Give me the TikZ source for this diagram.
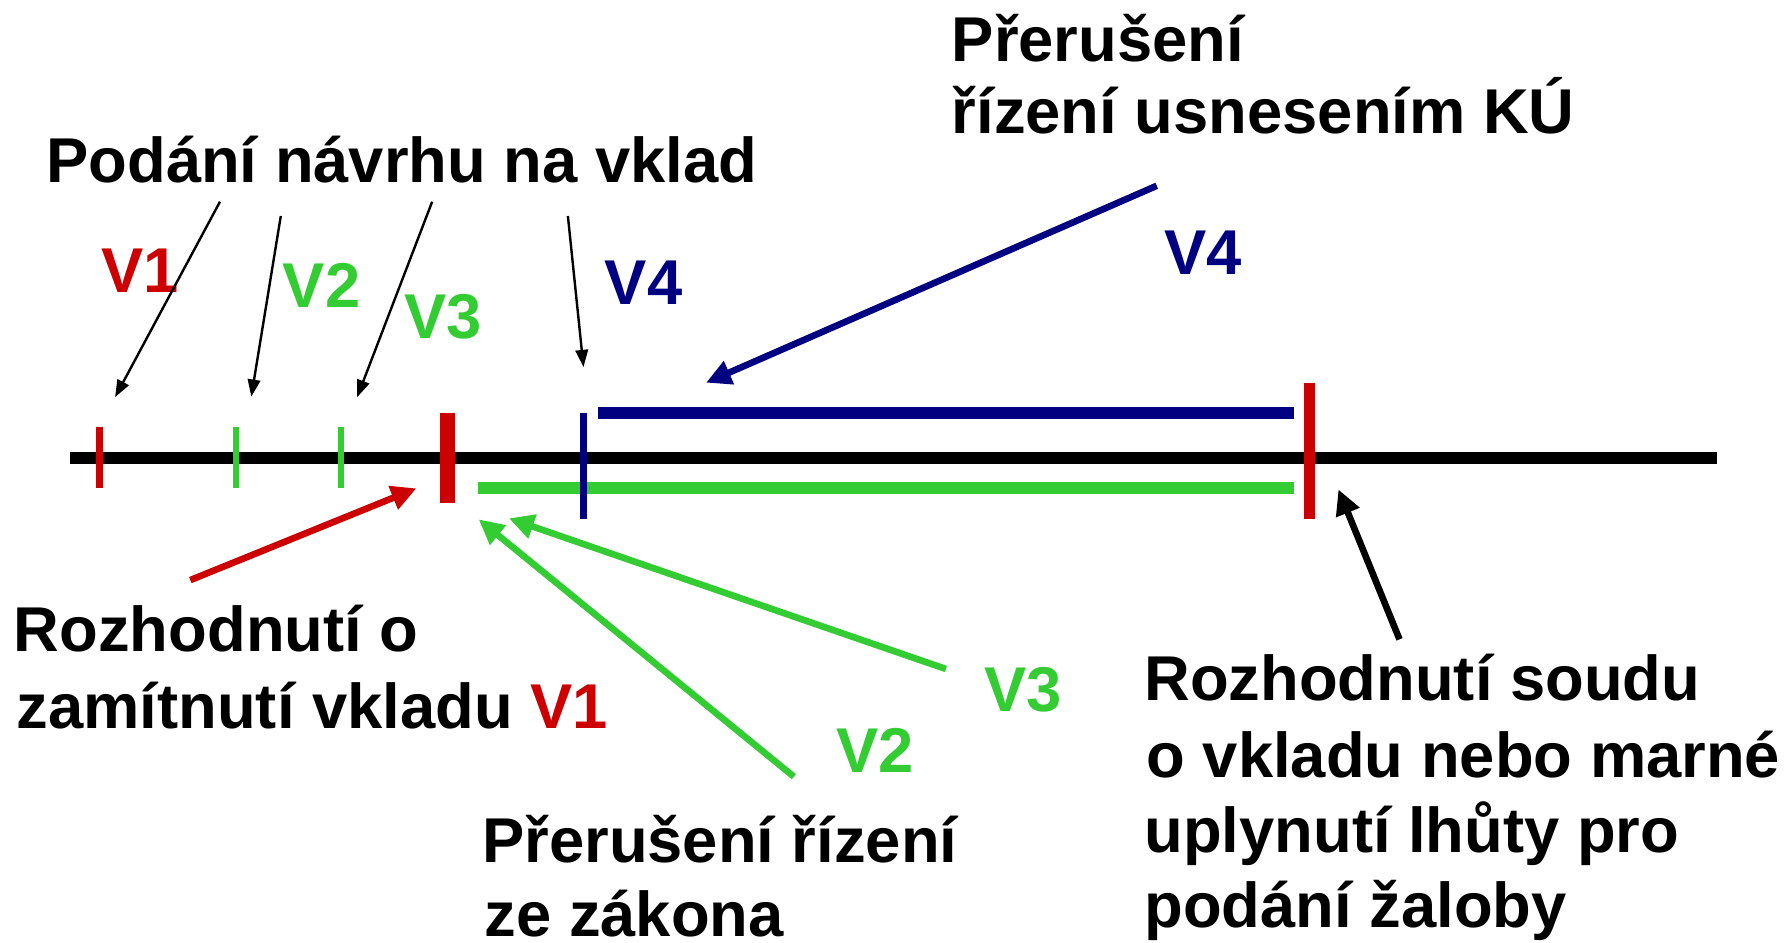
\documentclass[tikz,border=0pt]{standalone}
\usepackage{fontspec}
\setmainfont{Liberation Sans}
\usetikzlibrary{arrows.meta}
\definecolor{vred}{HTML}{CC0000}
\definecolor{vgreen}{HTML}{33CC33}
\definecolor{vblue}{HTML}{000080}
\tikzset{
  lbl/.style={font=\bfseries\fontsize{15.8}{19}\selectfont, inner sep=0pt, anchor=base west},
  thinarrow/.style={line width=0.6pt, -{Triangle[length=0.15cm,width=0.11cm]}},
  thickarrow/.style={line width=0.058cm, -{Triangle[length=0.22cm,width=0.21cm]}},
  bar/.style={line width=0.105cm},
}
\begin{document}
\begin{tikzpicture}[x=0.01cm,y=-0.01cm]
\useasboundingbox (0,0) rectangle (1568,827);

% time axis
\draw[line width=0.105cm] (61,402) -- (1507,402);

% running periods
\draw[bar, vblue]  (525,362) -- (1135,362);
\draw[bar, vgreen] (419,428.5) -- (1135,428.5);

% tick marks on the axis
\draw[vred,   line width=0.067cm] (87.3,375) -- (87.3,428.5);
\draw[vgreen, line width=0.053cm] (207,375) -- (207,428.5);
\draw[vgreen, line width=0.053cm] (299.5,375) -- (299.5,428.5);
\draw[vred,   line width=0.135cm] (392.8,362) -- (392.8,441.6);
\draw[vblue,  line width=0.064cm] (512,362) -- (512,455);
\draw[vred,   line width=0.095cm] (1149,336) -- (1149,455);

% texts
\node[lbl] (podani) at (40,160.3) {Podání návrhu na vklad};
\node[lbl] (ku1) at (834.5,54) {Přerušení};
\node[lbl] (ku2) at (834.5,117) {řízení usnesením KÚ};
\node[lbl] (zam1) at (11.5,571.8) {Rozhodnutí o};
\node[lbl] (zam2) at (14,639) {zamítnutí vkladu {\color{vred}V1}};
\node[lbl] (zak1) at (422.5,757) {Přerušení řízení};
\node[lbl] (zak2) at (424.5,822) {ze zákona};
\node[lbl] (soud1) at (1003.5,615) {Rozhodnutí soudu};
\node[lbl] (soud2) at (1005.5,682) {o vkladu nebo marné};
\node[lbl] (soud3) at (1003.5,748) {uplynutí lhůty pro};
\node[lbl] (soud4) at (1003.5,814) {podání žaloby};

\node[lbl, text=vred]   (v1)  at (88,257)   {V1};
\node[lbl, text=vgreen] (v2)  at (247.5,270) {V2};
\node[lbl, text=vgreen] (v3)  at (354,297)  {V3};
\node[lbl, text=vblue]  (v4)  at (530,267)  {V4};
\node[lbl, text=vblue]  (v4b) at (1021,240.5) {V4};
\node[lbl, text=vgreen] (v3b) at (863,624)  {V3};
\node[lbl, text=vgreen] (v2b) at (733,678)  {V2};

% arrow end points
\coordinate (p1s) at (193,177);   \coordinate (p1e) at (101,348.5);
\coordinate (p2s) at (246.4,189.5); \coordinate (p2e) at (220.5,348);
\coordinate (p3s) at (379.2,177); \coordinate (p3e) at (313.4,348.5);
\coordinate (p4s) at (498.3,189.5); \coordinate (p4e) at (512,322);
\coordinate (kus) at (1015,163);  \coordinate (kue) at (619.5,335.8);
\coordinate (zas) at (167,509);   \coordinate (zae) at (365.4,428.5);
\coordinate (z2s) at (696.6,681.5); \coordinate (z2e) at (420,455.7);
\coordinate (z3s) at (830,587);   \coordinate (z3e) at (446.5,454.8);
\coordinate (sos) at (1228,561);  \coordinate (soe) at (1174.4,429.4);

% filing of the proposals
\draw[thinarrow] (p1s) -- (p1e);
\draw[thinarrow] (p2s) -- (p2e);
\draw[thinarrow] (p3s) -- (p3e);
\draw[thinarrow] (p4s) -- (p4e);

% decisions and interruptions
\draw[thickarrow, vblue]  (kus) -- (kue);
\draw[thickarrow, vred]   (zas) -- (zae);
\draw[thickarrow, vgreen] (z2s) -- (z2e);
\draw[thickarrow, vgreen] (z3s) -- (z3e);
\draw[thickarrow, black]  (sos) -- (soe);
\end{tikzpicture}
\end{document}
